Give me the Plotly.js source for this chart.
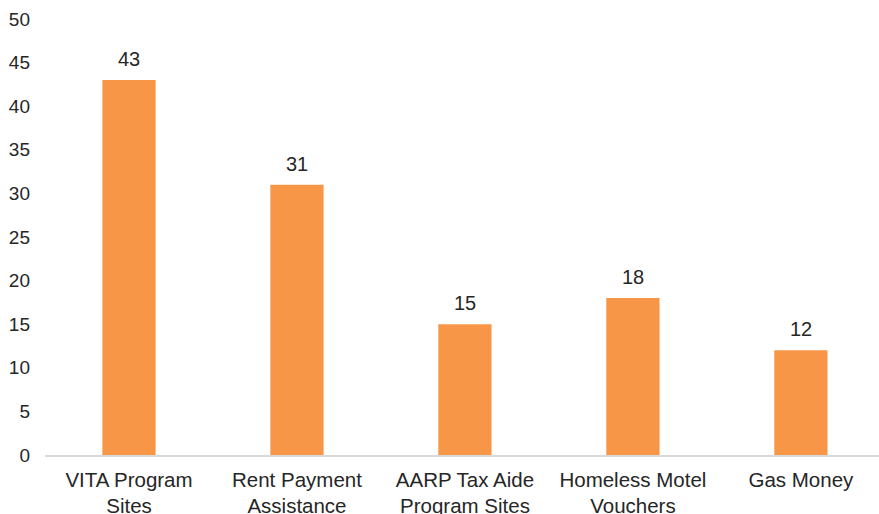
<!DOCTYPE html>
<html>
<head>
<meta charset="utf-8">
<script src="https://cdn.plot.ly/plotly-3.0.1.min.js"></script>
<style>html,body{margin:0;padding:0;background:#fff;}#chart{width:879px;height:514px;}</style>
</head>
<body>
<div id="chart"></div>
<script>
const categories = ["VITA Program<br>Sites", "Rent Payment<br>Assistance", "AARP Tax Aide<br>Program Sites", "Homeless Motel<br>Vouchers", "Gas Money"];
const values = [43, 31, 15, 18, 12];
const yTicks = [0, 5, 10, 15, 20, 25, 30, 35, 40, 45, 50];

const font = "Liberation Sans, Arial, sans-serif";
const trace = {
  type: "bar",
  x: categories,
  y: values,
  marker: {color: "#F79646"},
  width: 0.317,
  hoverinfo: "none"
};
const annotations = categories.map((c, i) => ({
  x: c, y: values[i], xref: "x", yref: "y",
  text: String(values[i]), showarrow: false,
  yanchor: "bottom", yshift: 8,
  font: {family: font, size: 20, color: "#262626"}
}));
const layout = {
  width: 879, height: 514,
  margin: {l: 45, r: 0, t: 19, b: 59},
  paper_bgcolor: "#fff", plot_bgcolor: "#fff",
  showlegend: false,
  xaxis: {
    type: "category", range: [-0.5, 4.465],
    showline: true, linecolor: "#d9d9d9", linewidth: 2,
    ticks: "", showgrid: false, zeroline: false,
    tickfont: {family: font, size: 20.5, color: "#262626"},
    ticklabelstandoff: 5
  },
  yaxis: {
    range: [0, 50], tickvals: yTicks, ticktext: yTicks.map(String),
    showline: false, showgrid: false, zeroline: false, ticks: "",
    tickfont: {family: font, size: 19, color: "#262626"},
    ticklabelstandoff: 14
  },
  annotations: annotations
};
Plotly.newPlot("chart", [trace], layout, {staticPlot: true, displayModeBar: false});
</script>
</body>
</html>
